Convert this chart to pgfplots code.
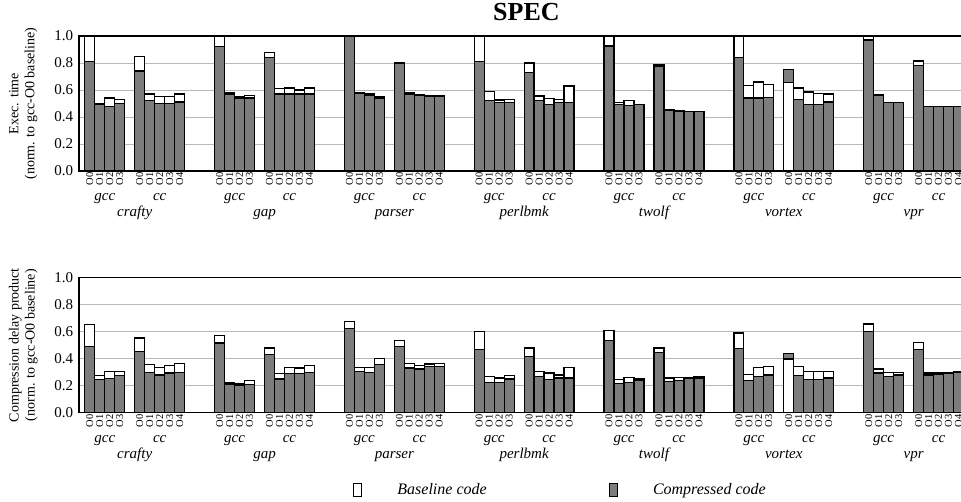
\documentclass[border=0pt]{standalone}
\usepackage{fontspec}
\setmainfont{Liberation Serif}
\usepackage{pgfplots}
\pgfplotsset{compat=1.18}
\usepackage{pgfplotstable}
\definecolor{cgray}{RGB}{125,125,125}

\pgfplotstableread{
x base comp
0 1.00 0.81
1 0.50 0.49
2 0.54 0.48
3 0.53 0.50
5 0.85 0.74
6 0.57 0.52
7 0.55 0.50
8 0.55 0.50
9 0.57 0.51
13 1.00 0.92
14 0.58 0.57
15 0.55 0.54
16 0.56 0.54
18 0.88 0.84
19 0.61 0.57
20 0.615 0.57
21 0.60 0.57
22 0.615 0.57
26 1.00 1.00
27 0.58 0.575
28 0.57 0.56
29 0.55 0.54
31 0.80 0.80
32 0.58 0.57
33 0.565 0.56
34 0.556 0.556
35 0.556 0.556
39 1.00 0.81
40 0.59 0.52
41 0.525 0.505
42 0.53 0.505
44 0.80 0.73
45 0.555 0.52
46 0.535 0.49
47 0.53 0.505
48 0.63 0.505
52 1.00 0.925
53 0.505 0.495
54 0.52 0.485
55 0.495 0.49
57 0.785 0.778
58 0.455 0.447
59 0.445 0.445
60 0.442 0.442
61 0.442 0.442
65 1.00 0.84
66 0.635 0.54
67 0.66 0.54
68 0.64 0.545
70 0.658 0.752
71 0.615 0.53
72 0.585 0.495
73 0.575 0.495
74 0.57 0.51
78 1.00 0.97
79 0.565 0.56
80 0.505 0.505
81 0.505 0.505
83 0.815 0.78
84 0.478 0.478
85 0.478 0.478
86 0.478 0.478
87 0.478 0.478
}\exectab

\pgfplotstableread{
x base comp
0 0.655 0.49
1 0.275 0.245
2 0.305 0.253
3 0.305 0.273
5 0.553 0.454
6 0.355 0.298
7 0.337 0.28
8 0.35 0.293
9 0.362 0.30
13 0.573 0.516
14 0.223 0.213
15 0.218 0.206
16 0.236 0.211
18 0.479 0.429
19 0.288 0.25
20 0.337 0.288
21 0.332 0.288
22 0.35 0.30
26 0.677 0.623
27 0.337 0.303
28 0.337 0.30
29 0.40 0.357
31 0.533 0.491
32 0.367 0.33
33 0.35 0.323
34 0.36 0.342
35 0.367 0.342
39 0.603 0.466
40 0.268 0.226
41 0.256 0.226
42 0.278 0.25
44 0.479 0.417
45 0.303 0.268
46 0.293 0.248
47 0.28 0.256
48 0.337 0.256
52 0.61 0.536
53 0.248 0.218
54 0.26 0.223
55 0.253 0.243
57 0.479 0.447
58 0.256 0.231
59 0.26 0.238
60 0.263 0.256
61 0.266 0.256
65 0.59 0.474
66 0.283 0.238
67 0.337 0.268
68 0.34 0.28
70 0.397 0.437
71 0.34 0.275
72 0.303 0.248
73 0.303 0.248
74 0.303 0.256
78 0.658 0.603
79 0.323 0.293
80 0.298 0.268
81 0.30 0.28
83 0.521 0.466
84 0.293 0.28
85 0.293 0.285
86 0.30 0.293
87 0.305 0.298
}\cdptab

\pgfplotsset{specaxis/.style={
  scale only axis, width=894.2pt, height=135pt,
  xmin=-1.05, xmax=88.5, ymin=0, ymax=1,
  clip=false,
  axis line style={line width=1.6pt},
  ymajorgrids, major grid style={color=black!28, line width=0.9pt},
  major tick length=0pt,
  ytick={0,0.2,0.4,0.6,0.8,1.0},
  /pgf/number format/assume math mode=true,
  yticklabel style={/pgf/number format/fixed, /pgf/number format/precision=1, /pgf/number format/fixed zerofill,
    font=\fontsize{15}{17}\selectfont, inner sep=0pt, xshift=-6pt},
  xtick={0,1,2,3,5,6,7,8,9,13,14,15,16,18,19,20,21,22,26,27,28,29,31,32,33,34,35,39,40,41,42,44,45,46,47,48,52,53,54,55,57,58,59,60,61,65,66,67,68,70,71,72,73,74,78,79,80,81,83,84,85,86,87},
  xticklabels={O0,O1,O2,O3,O0,O1,O2,O3,O4,O0,O1,O2,O3,O0,O1,O2,O3,O4,O0,O1,O2,O3,O0,O1,O2,O3,O4,O0,O1,O2,O3,O0,O1,O2,O3,O4,O0,O1,O2,O3,O0,O1,O2,O3,O4,O0,O1,O2,O3,O0,O1,O2,O3,O4,O0,O1,O2,O3,O0,O1,O2,O3,O4},
  xticklabel style={font=\fontsize{10.5}{12}\selectfont, rotate=90, anchor=east, inner sep=1.5pt},
  every axis y label/.style={at={(axis description cs:-0.0626,0.5)}, rotate=90, anchor=center, align=center, font=\fontsize{14}{16}\selectfont},
},
basebar/.style={ybar, bar width=1, bar shift=0pt, draw=black, line width=1.3pt, fill=white},
compbar/.style={ybar, bar width=1, bar shift=0pt, draw=black, line width=1.3pt, fill=cgray},
}

\newcommand\bench[2]{%
  \node[anchor=base, font=\fontsize{15}{17}\selectfont\itshape] at ([yshift=-30pt]axis cs:#1+1.5,0) {gcc};
  \node[anchor=base, font=\fontsize{15}{17}\selectfont\itshape] at ([yshift=-30pt]axis cs:#1+7,0) {cc};
  \node[anchor=base, font=\fontsize{15}{17}\selectfont\itshape] at ([yshift=-46pt]axis cs:#1+4.5,0) {#2};
}
\newcommand\allbench{%
  \bench{0}{crafty}\bench{13}{gap}\bench{26}{parser}\bench{39}{perlbmk}%
  \bench{52}{twolf}\bench{65}{vortex}\bench{78}{vpr}%
}

\begin{document}
\begin{tikzpicture}
\begin{axis}[specaxis,
  ylabel={Exec. time\\(norm. to gcc-O0 baseline)},
  title={SPEC},
  title style={font=\fontsize{26}{28}\selectfont\bfseries, at={(axis description cs:0.5,1)}, anchor=base, yshift=9pt},
]
\addplot[basebar, forget plot] table[x=x, y=base] {\exectab};
\addplot[compbar, forget plot] table[x=x, y=comp] {\exectab};
\addplot[basebar, forget plot] coordinates {(70,0.658)};
\allbench
\end{axis}

\begin{axis}[specaxis, at={(0pt,-241.7pt)},
  ylabel={Compression delay product\\(norm. to gcc-O0 baseline)},
  legend columns=2,
  legend cell align=left,
  legend style={at={(0.306,-0.573)}, anchor=west, draw=none, fill=none, inner sep=0pt,
    font=\fontsize{16}{18}\selectfont\itshape,
    /tikz/every odd column/.append style={column sep=33pt},
    /tikz/every even column/.append style={column sep=120pt}},
]
\addplot[basebar, legend image code/.code={\draw[draw=black, line width=1.3pt, fill=white] (0pt,-6.5pt) rectangle (8pt,6.5pt);}] table[x=x, y=base] {\cdptab};
\addlegendentry{Baseline code}
\addplot[compbar, legend image code/.code={\draw[draw=black, line width=1.3pt, fill=cgray] (0pt,-6.5pt) rectangle (8pt,6.5pt);}] table[x=x, y=comp] {\cdptab};
\addlegendentry{Compressed code}
\addplot[basebar, forget plot] coordinates {(70,0.397)};
\allbench
\end{axis}
\pgfresetboundingbox
\path[use as bounding box] (-79.3pt,171pt) rectangle (881.7pt,-331pt);
\end{tikzpicture}
\end{document}
